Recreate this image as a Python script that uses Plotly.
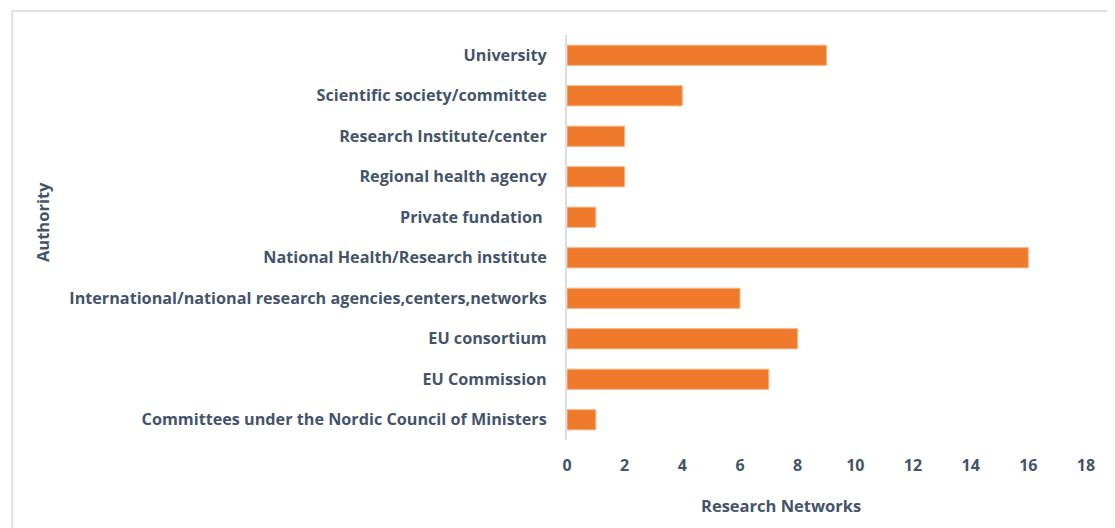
import plotly.graph_objects as go

categories = [
    "Committees under the Nordic Council of Ministers",
    "EU Commission",
    "EU consortium",
    "International/national research agencies,centers,networks",
    "National Health/Research institute",
    "Private fundation ",
    "Regional health agency",
    "Research Institute/center",
    "Scientific society/committee",
    "University",
]
values = [1, 7, 8, 6, 16, 1, 2, 2, 4, 9]
x_ticks = [0, 2, 4, 6, 8, 10, 12, 14, 16, 18]

TEXT = "#44546A"
FONT = "Open Sans"
OFF = 8  # page body offset

fig = go.Figure(go.Bar(
    y=categories, x=values, orientation="h", width=0.5,
    marker=dict(color="#EF7A2C", line=dict(color="#F7B888", width=1)),
))

L, R, T, B = 567, 1089, 35, 440
W, H = 1115, 528
pw, ph = R - L, B - T

fig.update_layout(
    width=W - 2 * OFF, height=H - 2 * OFF + 8,
    margin=dict(l=L - OFF, r=W - OFF - R, t=T - OFF, b=H - OFF - B + 8, pad=0),
    paper_bgcolor="white", plot_bgcolor="white",
    showlegend=False,
    font=dict(family=FONT, color=TEXT),
    xaxis=dict(range=[0, 18], tickvals=x_ticks, showgrid=False, zeroline=False,
               showline=False, ticks="", tickfont=dict(size=16, color=TEXT, family=FONT, weight="bold"),
               ticklabelstandoff=14),
    yaxis=dict(showgrid=False, zeroline=False, showline=True, linecolor="#D9DEE6", linewidth=2,
               ticks="", tickfont=dict(size=16.2, color=TEXT, family=FONT, weight="bold"),
               ticklabelstandoff=15, range=[-0.5, 9.5]),
    annotations=[
        dict(text="Research Networks", x=(782 - L) / pw, y=(B - 505) / ph, xref="paper", yref="paper",
             showarrow=False, font=dict(size=16.5, color=TEXT, family=FONT, weight="bold"),
             xanchor="center", yanchor="middle"),
        dict(text="Authority", x=(40 - L) / pw, y=(B - 222) / ph, xref="paper", yref="paper",
             showarrow=False, textangle=-90, font=dict(size=16.5, color=TEXT, family=FONT, weight="bold"),
             xanchor="center", yanchor="middle"),
    ],
    shapes=[
        dict(type="rect", xref="paper", yref="paper",
             x0=(9 - L) / pw, x1=(1113 - L) / pw, y0=(B - 560) / ph, y1=(B - 11) / ph,
             line=dict(color="#DDE2EA", width=2), fillcolor="rgba(0,0,0,0)", layer="below"),
    ],
)

fig.write_html("out.html")
